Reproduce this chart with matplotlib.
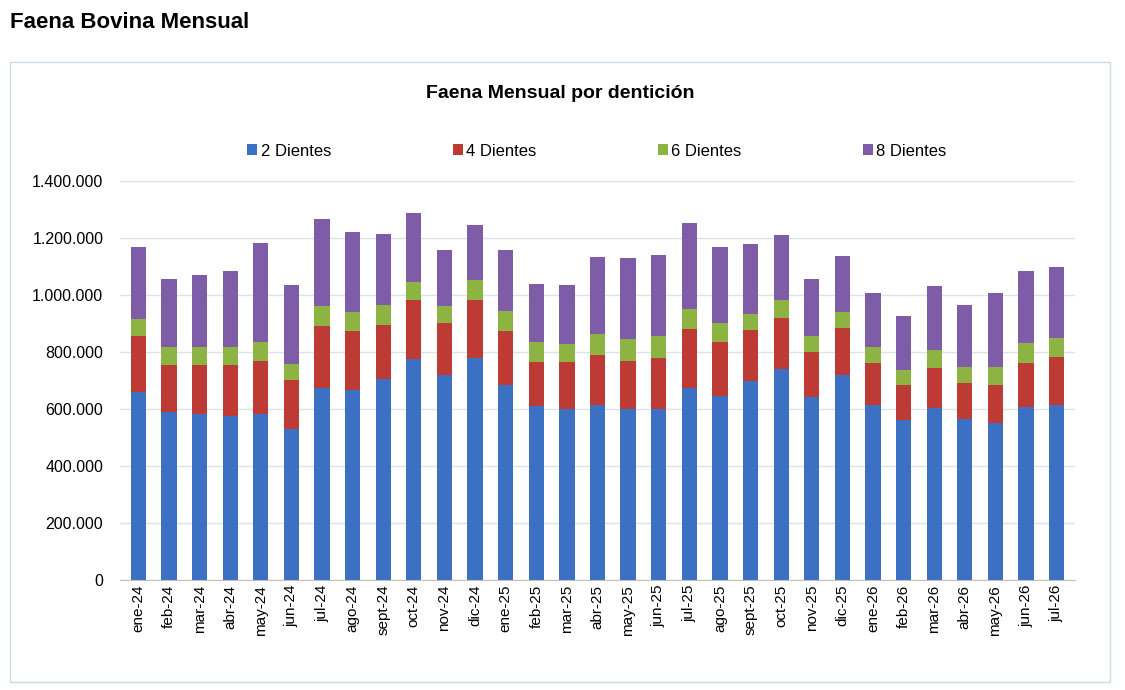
import matplotlib
matplotlib.use("Agg")
import matplotlib.pyplot as plt
import numpy as np
from matplotlib.patches import Rectangle
from matplotlib.ticker import FuncFormatter

plt.rcParams['font.family'] = ['Liberation Sans', 'DejaVu Sans']

months = ["ene-24","feb-24","mar-24","abr-24","may-24","jun-24","jul-24","ago-24","sept-24","oct-24","nov-24","dic-24",
          "ene-25","feb-25","mar-25","abr-25","may-25","jun-25","jul-25","ago-25","sept-25","oct-25","nov-25","dic-25",
          "ene-26","feb-26","mar-26","abr-26","may-26","jun-26","jul-26"]
d2 = [660,589,582,575,582,530,674,667,705,775,719,779,684,611,600,614,600,600,674,646,698,740,642,719,614,561,604,565,551,607,614]
d4 = [196,165,172,179,186,172,217,207,190,207,183,203,190,154,165,175,168,179,207,189,179,179,158,165,147,123,140,126,133,154,168]
d6 = [60,64,64,64,67,56,70,66,70,64,59,71,70,70,63,74,78,77,70,67,56,63,56,56,57,53,63,56,63,71,67]
d8 = [252,238,252,266,347,277,306,281,249,242,197,193,214,204,207,270,284,284,302,266,246,228,200,197,189,189,225,218,260,252,249]

series = [("2 Dientes", d2, "#3B70C2"), ("4 Dientes", d4, "#BE3A34"),
          ("6 Dientes", d6, "#8DB443"), ("8 Dientes", d8, "#7E5CA8")]

fig = plt.figure(figsize=(11.25, 6.9), dpi=100)
fig.text(10/1125, 1-22/690, "Faena Bovina Mensual", fontsize=16, fontweight="bold", va="center", ha="left")
fig.patches.append(Rectangle((10/1125, 1-682/690), 1100/1125, 620/690, transform=fig.transFigure,
                             fill=False, edgecolor="#C9DCEA", linewidth=1))
fig.text(560/1125, 1-93/690, "Faena Mensual por dentición", fontsize=14, fontweight="bold", ha="center", va="center")

ax = fig.add_axes([120/1125, 110/690, 955/1125, 399/690])
x = np.arange(len(months))
bottom = np.zeros(len(months))
for name, vals, col in series:
    v = np.array(vals) * 1000
    ax.bar(x, v, 0.5, bottom=bottom, color=col, label=name)
    bottom += v
ax.set_ylim(0, 1400000)
ax.set_xlim(-0.6, len(months) - 0.4)
ax.set_yticks(np.arange(0, 1400001, 200000))
ax.yaxis.set_major_formatter(FuncFormatter(lambda v, p: f"{int(v):,}".replace(",", ".")))
ax.set_xticks(x)
ax.set_xticklabels(months, rotation=90, fontsize=11)
ax.tick_params(axis="y", labelsize=11.5, length=0, pad=12)
ax.tick_params(axis="x", length=0)
ax.grid(axis="y", color="#D9E3EC", linewidth=1)
ax.set_axisbelow(True)
for s in ["top", "right", "left"]:
    ax.spines[s].set_visible(False)
ax.spines["bottom"].set_color("#BFBFBF")
fig.legend(loc="center", bbox_to_anchor=(597/1125, 1-151/690), ncol=4, frameon=False,
           fontsize=12, handlelength=0.6, handleheight=0.6, columnspacing=7.3, handletextpad=0.2)
fig.savefig("out.png", dpi=100)
